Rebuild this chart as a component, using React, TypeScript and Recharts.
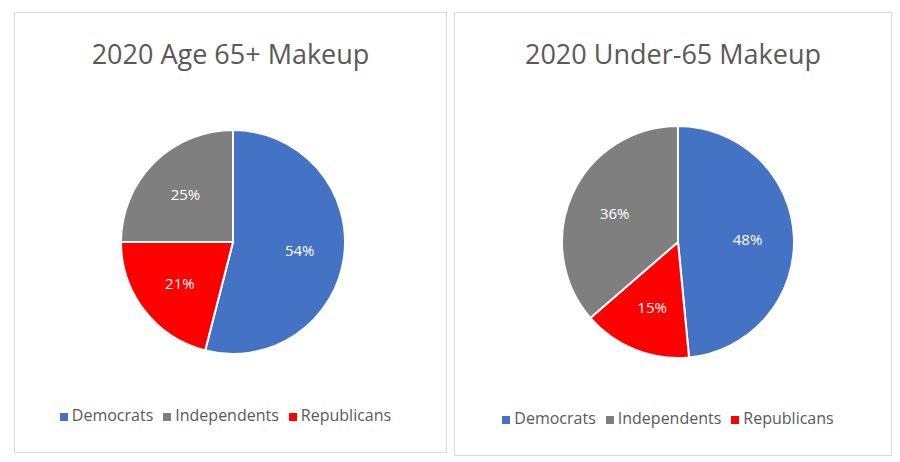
import React from "react";
import { PieChart, Pie, Cell, Legend } from "recharts";

const categories = ["Democrats", "Republicans", "Independents"];
const colors = ["#4472C4", "#FF0000", "#7F7F7F"];
const olderValues = [54, 21, 25];
const youngerValues = [48, 15, 36];
const titles = ["2020 Age 65+ Makeup", "2020 Under-65 Makeup"];

const RAD = Math.PI / 180;
const renderLabel = (p: any) => {
  const r = p.outerRadius * 0.6;
  const x = p.cx + r * Math.cos(-p.midAngle * RAD);
  const y = p.cy + r * Math.sin(-p.midAngle * RAD);
  return (
    <text x={x} y={y} fill="#fff" textAnchor="middle" dominantBaseline="central" fontSize={15}>
      {p.value}%
    </text>
  );
};

function Panel({ left, top, width, height, title, values, cx, cy, r }: any) {
  const data = categories.map((name, i) => ({ name, value: values[i] }));
  return (
    <div style={{ position: "absolute", left, top, width, height, border: "1px solid #D9D9D9", boxSizing: "border-box", background: "#fff" }}>
      <div style={{ position: "absolute", top: 22, width: "100%", textAlign: "center", fontSize: 27, color: "#595959" }}>{title}</div>
      <PieChart width={width - 2} height={height - 2} style={{ position: "absolute", left: 0, top: 0 }}>
        <Pie data={data} dataKey="value" nameKey="name" cx={cx} cy={cy} outerRadius={r} startAngle={90} endAngle={-270}
          stroke="#fff" strokeWidth={2} label={renderLabel} labelLine={false} isAnimationActive={false}>
          {data.map((d, i) => <Cell key={d.name} fill={colors[i]} />)}
        </Pie>
        <Legend verticalAlign="bottom" iconType="square" iconSize={8}
          wrapperStyle={{ bottom: 26, fontSize: 16 }}
          formatter={(v: string) => <span style={{ color: "#595959" }}>{v}</span>} />
      </PieChart>
    </div>
  );
}

export default function App() {
  return (
    <div style={{ position: "absolute", left: 0, top: 0, width: 900, height: 462, background: "#fff", fontFamily: "'Open Sans', 'Noto Sans', sans-serif" }}>
      <Panel left={14} top={12} width={433} height={441} title={titles[0]} values={olderValues} cx={213} cy={224} r={112} />
      <Panel left={454} top={12} width={438} height={444} title={titles[1]} values={youngerValues} cx={218} cy={224} r={116} />
    </div>
  );
}
